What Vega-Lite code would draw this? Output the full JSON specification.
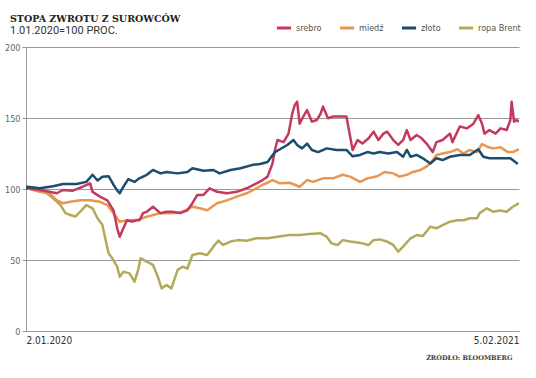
{
  "$schema": "https://vega.github.io/schema/vega-lite/v6.json",
  "width": 493,
  "height": 284,
  "autosize": {"type": "none"},
  "padding": {"left": 26, "top": 47, "right": 17, "bottom": 47},
  "background": "#ffffff",
  "title": {
    "text": "STOPA ZWROTU Z SUROWCÓW",
    "subtitle": "1.01.2020=100 PROC.",
    "anchor": "start",
    "frame": "group",
    "dx": -16,
    "offset": -17,
    "font": "DejaVu Serif",
    "fontSize": 9.5,
    "fontWeight": "bold",
    "color": "#222222",
    "subtitleFont": "Roboto",
    "subtitleFontSize": 11,
    "subtitleColor": "#333333",
    "subtitlePadding": 2
  },
  "data": {
    "values": [
      {"d": "2020-01-02", "s": "ropa Brent", "v": 100},
      {"d": "2020-01-03", "s": "ropa Brent", "v": 100.5},
      {"d": "2020-01-11", "s": "ropa Brent", "v": 99.3},
      {"d": "2020-01-19", "s": "ropa Brent", "v": 97},
      {"d": "2020-01-24", "s": "ropa Brent", "v": 93.4},
      {"d": "2020-01-30", "s": "ropa Brent", "v": 88.7},
      {"d": "2020-02-03", "s": "ropa Brent", "v": 83},
      {"d": "2020-02-07", "s": "ropa Brent", "v": 81.7},
      {"d": "2020-02-11", "s": "ropa Brent", "v": 80.5},
      {"d": "2020-02-15", "s": "ropa Brent", "v": 84},
      {"d": "2020-02-20", "s": "ropa Brent", "v": 88.7},
      {"d": "2020-02-25", "s": "ropa Brent", "v": 86.4},
      {"d": "2020-02-29", "s": "ropa Brent", "v": 79.4},
      {"d": "2020-03-04", "s": "ropa Brent", "v": 74.6},
      {"d": "2020-03-06", "s": "ropa Brent", "v": 66.4},
      {"d": "2020-03-09", "s": "ropa Brent", "v": 54.7},
      {"d": "2020-03-12", "s": "ropa Brent", "v": 51.2},
      {"d": "2020-03-16", "s": "ropa Brent", "v": 45.3},
      {"d": "2020-03-18", "s": "ropa Brent", "v": 38.2},
      {"d": "2020-03-21", "s": "ropa Brent", "v": 41.8},
      {"d": "2020-03-26", "s": "ropa Brent", "v": 40.6},
      {"d": "2020-03-30", "s": "ropa Brent", "v": 34.7},
      {"d": "2020-04-02", "s": "ropa Brent", "v": 43},
      {"d": "2020-04-04", "s": "ropa Brent", "v": 51.2},
      {"d": "2020-04-09", "s": "ropa Brent", "v": 48.8},
      {"d": "2020-04-14", "s": "ropa Brent", "v": 46.5},
      {"d": "2020-04-18", "s": "ropa Brent", "v": 38.2},
      {"d": "2020-04-21", "s": "ropa Brent", "v": 30},
      {"d": "2020-04-25", "s": "ropa Brent", "v": 32.4},
      {"d": "2020-04-29", "s": "ropa Brent", "v": 30},
      {"d": "2020-05-04", "s": "ropa Brent", "v": 43},
      {"d": "2020-05-08", "s": "ropa Brent", "v": 45.3},
      {"d": "2020-05-12", "s": "ropa Brent", "v": 44},
      {"d": "2020-05-16", "s": "ropa Brent", "v": 53.5},
      {"d": "2020-05-22", "s": "ropa Brent", "v": 54.7},
      {"d": "2020-05-28", "s": "ropa Brent", "v": 53.5},
      {"d": "2020-06-02", "s": "ropa Brent", "v": 59.4},
      {"d": "2020-06-06", "s": "ropa Brent", "v": 63.6},
      {"d": "2020-06-10", "s": "ropa Brent", "v": 60.6},
      {"d": "2020-06-16", "s": "ropa Brent", "v": 63},
      {"d": "2020-06-22", "s": "ropa Brent", "v": 64},
      {"d": "2020-06-29", "s": "ropa Brent", "v": 63.6},
      {"d": "2020-07-07", "s": "ropa Brent", "v": 65.3},
      {"d": "2020-07-16", "s": "ropa Brent", "v": 65.3},
      {"d": "2020-07-24", "s": "ropa Brent", "v": 66.4},
      {"d": "2020-08-03", "s": "ropa Brent", "v": 67.6},
      {"d": "2020-08-11", "s": "ropa Brent", "v": 67.6},
      {"d": "2020-08-19", "s": "ropa Brent", "v": 68.3},
      {"d": "2020-08-28", "s": "ropa Brent", "v": 68.8},
      {"d": "2020-09-02", "s": "ropa Brent", "v": 66.4},
      {"d": "2020-09-06", "s": "ropa Brent", "v": 61.7},
      {"d": "2020-09-11", "s": "ropa Brent", "v": 60.6},
      {"d": "2020-09-15", "s": "ropa Brent", "v": 64},
      {"d": "2020-09-21", "s": "ropa Brent", "v": 63},
      {"d": "2020-09-27", "s": "ropa Brent", "v": 62.3},
      {"d": "2020-10-01", "s": "ropa Brent", "v": 61.7},
      {"d": "2020-10-06", "s": "ropa Brent", "v": 60.6},
      {"d": "2020-10-10", "s": "ropa Brent", "v": 64},
      {"d": "2020-10-15", "s": "ropa Brent", "v": 64.5},
      {"d": "2020-10-21", "s": "ropa Brent", "v": 63},
      {"d": "2020-10-26", "s": "ropa Brent", "v": 60.6},
      {"d": "2020-10-30", "s": "ropa Brent", "v": 55.9},
      {"d": "2020-11-03", "s": "ropa Brent", "v": 59.4},
      {"d": "2020-11-09", "s": "ropa Brent", "v": 65.3},
      {"d": "2020-11-14", "s": "ropa Brent", "v": 67.6},
      {"d": "2020-11-19", "s": "ropa Brent", "v": 66.9},
      {"d": "2020-11-25", "s": "ropa Brent", "v": 73.4},
      {"d": "2020-11-30", "s": "ropa Brent", "v": 72.3},
      {"d": "2020-12-05", "s": "ropa Brent", "v": 74.6},
      {"d": "2020-12-11", "s": "ropa Brent", "v": 77},
      {"d": "2020-12-17", "s": "ropa Brent", "v": 78},
      {"d": "2020-12-22", "s": "ropa Brent", "v": 78},
      {"d": "2020-12-27", "s": "ropa Brent", "v": 79.4},
      {"d": "2021-01-02", "s": "ropa Brent", "v": 79.4},
      {"d": "2021-01-04", "s": "ropa Brent", "v": 83},
      {"d": "2021-01-10", "s": "ropa Brent", "v": 86.4},
      {"d": "2021-01-15", "s": "ropa Brent", "v": 84},
      {"d": "2021-01-21", "s": "ropa Brent", "v": 84.8},
      {"d": "2021-01-26", "s": "ropa Brent", "v": 84},
      {"d": "2021-01-31", "s": "ropa Brent", "v": 87.5},
      {"d": "2021-02-05", "s": "ropa Brent", "v": 90},

      {"d": "2020-01-02", "s": "miedź", "v": 100},
      {"d": "2020-01-03", "s": "miedź", "v": 100.5},
      {"d": "2020-01-13", "s": "miedź", "v": 98},
      {"d": "2020-01-21", "s": "miedź", "v": 97},
      {"d": "2020-01-27", "s": "miedź", "v": 92},
      {"d": "2020-02-01", "s": "miedź", "v": 90},
      {"d": "2020-02-07", "s": "miedź", "v": 91},
      {"d": "2020-02-15", "s": "miedź", "v": 92},
      {"d": "2020-02-23", "s": "miedź", "v": 92},
      {"d": "2020-03-02", "s": "miedź", "v": 91},
      {"d": "2020-03-08", "s": "miedź", "v": 88.7},
      {"d": "2020-03-13", "s": "miedź", "v": 83},
      {"d": "2020-03-18", "s": "miedź", "v": 77},
      {"d": "2020-03-24", "s": "miedź", "v": 78},
      {"d": "2020-03-29", "s": "miedź", "v": 78},
      {"d": "2020-04-03", "s": "miedź", "v": 78.5},
      {"d": "2020-04-09", "s": "miedź", "v": 80.5},
      {"d": "2020-04-20", "s": "miedź", "v": 83},
      {"d": "2020-04-30", "s": "miedź", "v": 83},
      {"d": "2020-05-08", "s": "miedź", "v": 84},
      {"d": "2020-05-16", "s": "miedź", "v": 87.5},
      {"d": "2020-05-22", "s": "miedź", "v": 86.4},
      {"d": "2020-05-28", "s": "miedź", "v": 85},
      {"d": "2020-06-05", "s": "miedź", "v": 90},
      {"d": "2020-06-13", "s": "miedź", "v": 92},
      {"d": "2020-06-21", "s": "miedź", "v": 94.6},
      {"d": "2020-06-29", "s": "miedź", "v": 97},
      {"d": "2020-07-07", "s": "miedź", "v": 100.5},
      {"d": "2020-07-12", "s": "miedź", "v": 103},
      {"d": "2020-07-16", "s": "miedź", "v": 104.4},
      {"d": "2020-07-20", "s": "miedź", "v": 106.3},
      {"d": "2020-07-26", "s": "miedź", "v": 104},
      {"d": "2020-08-03", "s": "miedź", "v": 104.4},
      {"d": "2020-08-11", "s": "miedź", "v": 101.6},
      {"d": "2020-08-17", "s": "miedź", "v": 106.3},
      {"d": "2020-08-22", "s": "miedź", "v": 105},
      {"d": "2020-08-30", "s": "miedź", "v": 107.5},
      {"d": "2020-09-07", "s": "miedź", "v": 107.5},
      {"d": "2020-09-15", "s": "miedź", "v": 110},
      {"d": "2020-09-21", "s": "miedź", "v": 108.7},
      {"d": "2020-09-29", "s": "miedź", "v": 105},
      {"d": "2020-10-05", "s": "miedź", "v": 107.5},
      {"d": "2020-10-13", "s": "miedź", "v": 109},
      {"d": "2020-10-19", "s": "miedź", "v": 112},
      {"d": "2020-10-26", "s": "miedź", "v": 111},
      {"d": "2020-10-31", "s": "miedź", "v": 108.7},
      {"d": "2020-11-06", "s": "miedź", "v": 110},
      {"d": "2020-11-11", "s": "miedź", "v": 112},
      {"d": "2020-11-17", "s": "miedź", "v": 113.4},
      {"d": "2020-11-22", "s": "miedź", "v": 115.7},
      {"d": "2020-11-26", "s": "miedź", "v": 119},
      {"d": "2020-11-30", "s": "miedź", "v": 124},
      {"d": "2020-12-05", "s": "miedź", "v": 125},
      {"d": "2020-12-11", "s": "miedź", "v": 126},
      {"d": "2020-12-17", "s": "miedź", "v": 128},
      {"d": "2020-12-22", "s": "miedź", "v": 125},
      {"d": "2020-12-27", "s": "miedź", "v": 127.5},
      {"d": "2021-01-02", "s": "miedź", "v": 126},
      {"d": "2021-01-06", "s": "miedź", "v": 131.7},
      {"d": "2021-01-10", "s": "miedź", "v": 129.8},
      {"d": "2021-01-15", "s": "miedź", "v": 128.6},
      {"d": "2021-01-21", "s": "miedź", "v": 129.4},
      {"d": "2021-01-27", "s": "miedź", "v": 126},
      {"d": "2021-01-31", "s": "miedź", "v": 126},
      {"d": "2021-02-05", "s": "miedź", "v": 128},

      {"d": "2020-01-02", "s": "srebro", "v": 100},
      {"d": "2020-01-03", "s": "srebro", "v": 100.5},
      {"d": "2020-01-13", "s": "srebro", "v": 99.3},
      {"d": "2020-01-21", "s": "srebro", "v": 98},
      {"d": "2020-01-27", "s": "srebro", "v": 97},
      {"d": "2020-02-01", "s": "srebro", "v": 99.3},
      {"d": "2020-02-09", "s": "srebro", "v": 98.8},
      {"d": "2020-02-17", "s": "srebro", "v": 101.6},
      {"d": "2020-02-23", "s": "srebro", "v": 104},
      {"d": "2020-02-25", "s": "srebro", "v": 98},
      {"d": "2020-03-02", "s": "srebro", "v": 94.6},
      {"d": "2020-03-08", "s": "srebro", "v": 92},
      {"d": "2020-03-13", "s": "srebro", "v": 85},
      {"d": "2020-03-16", "s": "srebro", "v": 72.3},
      {"d": "2020-03-18", "s": "srebro", "v": 66.4},
      {"d": "2020-03-21", "s": "srebro", "v": 72.3},
      {"d": "2020-03-24", "s": "srebro", "v": 78},
      {"d": "2020-03-28", "s": "srebro", "v": 77},
      {"d": "2020-04-01", "s": "srebro", "v": 78},
      {"d": "2020-04-03", "s": "srebro", "v": 78},
      {"d": "2020-04-06", "s": "srebro", "v": 83},
      {"d": "2020-04-09", "s": "srebro", "v": 84},
      {"d": "2020-04-14", "s": "srebro", "v": 87.5},
      {"d": "2020-04-20", "s": "srebro", "v": 83},
      {"d": "2020-04-25", "s": "srebro", "v": 84},
      {"d": "2020-04-30", "s": "srebro", "v": 84},
      {"d": "2020-05-06", "s": "srebro", "v": 83},
      {"d": "2020-05-12", "s": "srebro", "v": 85},
      {"d": "2020-05-16", "s": "srebro", "v": 90},
      {"d": "2020-05-20", "s": "srebro", "v": 95.8},
      {"d": "2020-05-25", "s": "srebro", "v": 95.8},
      {"d": "2020-05-30", "s": "srebro", "v": 100.5},
      {"d": "2020-06-05", "s": "srebro", "v": 98},
      {"d": "2020-06-13", "s": "srebro", "v": 97},
      {"d": "2020-06-21", "s": "srebro", "v": 98},
      {"d": "2020-06-29", "s": "srebro", "v": 100.5},
      {"d": "2020-07-07", "s": "srebro", "v": 104},
      {"d": "2020-07-12", "s": "srebro", "v": 106.3},
      {"d": "2020-07-16", "s": "srebro", "v": 108.7},
      {"d": "2020-07-20", "s": "srebro", "v": 118},
      {"d": "2020-07-22", "s": "srebro", "v": 127.5},
      {"d": "2020-07-24", "s": "srebro", "v": 134.5},
      {"d": "2020-07-29", "s": "srebro", "v": 133},
      {"d": "2020-08-02", "s": "srebro", "v": 139},
      {"d": "2020-08-05", "s": "srebro", "v": 153},
      {"d": "2020-08-07", "s": "srebro", "v": 159},
      {"d": "2020-08-09", "s": "srebro", "v": 161.5},
      {"d": "2020-08-11", "s": "srebro", "v": 146},
      {"d": "2020-08-14", "s": "srebro", "v": 151},
      {"d": "2020-08-17", "s": "srebro", "v": 155.6},
      {"d": "2020-08-21", "s": "srebro", "v": 147.4},
      {"d": "2020-08-25", "s": "srebro", "v": 148.6},
      {"d": "2020-08-28", "s": "srebro", "v": 153},
      {"d": "2020-08-30", "s": "srebro", "v": 158},
      {"d": "2020-09-03", "s": "srebro", "v": 149.8},
      {"d": "2020-09-07", "s": "srebro", "v": 151},
      {"d": "2020-09-13", "s": "srebro", "v": 151},
      {"d": "2020-09-18", "s": "srebro", "v": 151},
      {"d": "2020-09-21", "s": "srebro", "v": 137},
      {"d": "2020-09-23", "s": "srebro", "v": 127.5},
      {"d": "2020-09-27", "s": "srebro", "v": 134.5},
      {"d": "2020-10-01", "s": "srebro", "v": 132},
      {"d": "2020-10-06", "s": "srebro", "v": 135.7},
      {"d": "2020-10-10", "s": "srebro", "v": 140.4},
      {"d": "2020-10-14", "s": "srebro", "v": 134.5},
      {"d": "2020-10-18", "s": "srebro", "v": 139},
      {"d": "2020-10-21", "s": "srebro", "v": 140.4},
      {"d": "2020-10-26", "s": "srebro", "v": 134.5},
      {"d": "2020-10-30", "s": "srebro", "v": 131},
      {"d": "2020-11-03", "s": "srebro", "v": 134.5},
      {"d": "2020-11-06", "s": "srebro", "v": 141.5},
      {"d": "2020-11-09", "s": "srebro", "v": 134.5},
      {"d": "2020-11-14", "s": "srebro", "v": 138},
      {"d": "2020-11-18", "s": "srebro", "v": 135.7},
      {"d": "2020-11-22", "s": "srebro", "v": 132},
      {"d": "2020-11-27", "s": "srebro", "v": 126},
      {"d": "2020-11-30", "s": "srebro", "v": 133},
      {"d": "2020-12-05", "s": "srebro", "v": 134.5},
      {"d": "2020-12-11", "s": "srebro", "v": 139},
      {"d": "2020-12-13", "s": "srebro", "v": 133},
      {"d": "2020-12-19", "s": "srebro", "v": 144},
      {"d": "2020-12-25", "s": "srebro", "v": 142.7},
      {"d": "2020-12-30", "s": "srebro", "v": 146},
      {"d": "2021-01-03", "s": "srebro", "v": 152},
      {"d": "2021-01-06", "s": "srebro", "v": 146},
      {"d": "2021-01-08", "s": "srebro", "v": 139},
      {"d": "2021-01-12", "s": "srebro", "v": 141.5},
      {"d": "2021-01-17", "s": "srebro", "v": 139},
      {"d": "2021-01-21", "s": "srebro", "v": 142.7},
      {"d": "2021-01-26", "s": "srebro", "v": 141.5},
      {"d": "2021-01-29", "s": "srebro", "v": 148.6},
      {"d": "2021-01-30", "s": "srebro", "v": 161.5},
      {"d": "2021-02-01", "s": "srebro", "v": 147.4},
      {"d": "2021-02-03", "s": "srebro", "v": 148.6},
      {"d": "2021-02-05", "s": "srebro", "v": 147.4},

      {"d": "2020-01-02", "s": "złoto", "v": 100},
      {"d": "2020-01-03", "s": "złoto", "v": 101.6},
      {"d": "2020-01-13", "s": "złoto", "v": 100.5},
      {"d": "2020-01-24", "s": "złoto", "v": 102},
      {"d": "2020-02-01", "s": "złoto", "v": 103.5},
      {"d": "2020-02-12", "s": "złoto", "v": 103.5},
      {"d": "2020-02-20", "s": "złoto", "v": 105},
      {"d": "2020-02-25", "s": "złoto", "v": 110},
      {"d": "2020-02-29", "s": "złoto", "v": 106},
      {"d": "2020-03-04", "s": "złoto", "v": 108.7},
      {"d": "2020-03-09", "s": "złoto", "v": 109},
      {"d": "2020-03-13", "s": "złoto", "v": 103},
      {"d": "2020-03-16", "s": "złoto", "v": 99},
      {"d": "2020-03-18", "s": "złoto", "v": 97},
      {"d": "2020-03-21", "s": "złoto", "v": 101.6},
      {"d": "2020-03-25", "s": "złoto", "v": 107},
      {"d": "2020-03-30", "s": "złoto", "v": 105},
      {"d": "2020-04-03", "s": "złoto", "v": 107.5},
      {"d": "2020-04-09", "s": "złoto", "v": 110},
      {"d": "2020-04-14", "s": "złoto", "v": 113.4},
      {"d": "2020-04-20", "s": "złoto", "v": 111},
      {"d": "2020-04-25", "s": "złoto", "v": 112},
      {"d": "2020-05-04", "s": "złoto", "v": 111},
      {"d": "2020-05-12", "s": "złoto", "v": 112},
      {"d": "2020-05-16", "s": "złoto", "v": 114.6},
      {"d": "2020-05-25", "s": "złoto", "v": 112.9},
      {"d": "2020-06-02", "s": "złoto", "v": 113.4},
      {"d": "2020-06-07", "s": "złoto", "v": 111},
      {"d": "2020-06-16", "s": "złoto", "v": 113.4},
      {"d": "2020-06-24", "s": "złoto", "v": 114.6},
      {"d": "2020-07-04", "s": "złoto", "v": 117},
      {"d": "2020-07-10", "s": "złoto", "v": 117.6},
      {"d": "2020-07-16", "s": "złoto", "v": 119},
      {"d": "2020-07-22", "s": "złoto", "v": 126},
      {"d": "2020-07-26", "s": "złoto", "v": 128},
      {"d": "2020-08-01", "s": "złoto", "v": 131},
      {"d": "2020-08-06", "s": "złoto", "v": 134.5},
      {"d": "2020-08-09", "s": "złoto", "v": 131},
      {"d": "2020-08-13", "s": "złoto", "v": 128.6},
      {"d": "2020-08-17", "s": "złoto", "v": 132},
      {"d": "2020-08-21", "s": "złoto", "v": 127.5},
      {"d": "2020-08-26", "s": "złoto", "v": 126},
      {"d": "2020-09-02", "s": "złoto", "v": 128.6},
      {"d": "2020-09-10", "s": "złoto", "v": 127.5},
      {"d": "2020-09-18", "s": "złoto", "v": 127.5},
      {"d": "2020-09-23", "s": "złoto", "v": 123},
      {"d": "2020-09-29", "s": "złoto", "v": 124},
      {"d": "2020-10-05", "s": "złoto", "v": 126},
      {"d": "2020-10-10", "s": "złoto", "v": 125},
      {"d": "2020-10-15", "s": "złoto", "v": 126},
      {"d": "2020-10-22", "s": "złoto", "v": 125},
      {"d": "2020-10-29", "s": "złoto", "v": 126},
      {"d": "2020-11-03", "s": "złoto", "v": 122.7},
      {"d": "2020-11-06", "s": "złoto", "v": 127.5},
      {"d": "2020-11-09", "s": "złoto", "v": 122.7},
      {"d": "2020-11-14", "s": "złoto", "v": 124},
      {"d": "2020-11-19", "s": "złoto", "v": 121.6},
      {"d": "2020-11-25", "s": "złoto", "v": 118},
      {"d": "2020-11-30", "s": "złoto", "v": 121.6},
      {"d": "2020-12-05", "s": "złoto", "v": 120.4},
      {"d": "2020-12-11", "s": "złoto", "v": 122.7},
      {"d": "2020-12-19", "s": "złoto", "v": 124},
      {"d": "2020-12-27", "s": "złoto", "v": 124},
      {"d": "2021-01-03", "s": "złoto", "v": 128},
      {"d": "2021-01-07", "s": "złoto", "v": 122.7},
      {"d": "2021-01-12", "s": "złoto", "v": 121.6},
      {"d": "2021-01-21", "s": "złoto", "v": 121.6},
      {"d": "2021-01-29", "s": "złoto", "v": 121.6},
      {"d": "2021-02-02", "s": "złoto", "v": 119},
      {"d": "2021-02-04", "s": "złoto", "v": 117.6}
    ]
  },
  "mark": {"type": "line", "strokeWidth": 2.5, "strokeJoin": "round", "clip": true},
  "encoding": {
    "x": {
      "field": "d",
      "type": "temporal",
      "scale": {"domain": [{"year": 2020, "month": 1, "date": 2}, {"year": 2021, "month": 2, "date": 5}]},
      "axis": {
        "values": [{"year": 2020, "month": 1, "date": 2}, {"year": 2021, "month": 2, "date": 5}],
        "format": "%-d.%m.%Y",
        "labelFlush": true,
        "grid": false,
        "ticks": false,
        "domainColor": "#999999",
        "labelFont": "DejaVu Sans Condensed, Liberation Sans Narrow, sans-serif",
        "labelFontSize": 10,
        "labelColor": "#333333",
        "labelPadding": 4,
        "title": "ŹRÓDŁO: BLOOMBERG",
        "titleFont": "DejaVu Serif",
        "titleFontSize": 6.5,
        "titleFontWeight": "bold",
        "titleColor": "#444444",
        "titleAlign": "right",
        "titleX": 486,
        "titleY": 23
      }
    },
    "y": {
      "field": "v",
      "type": "quantitative",
      "scale": {"domain": [0, 200], "nice": false},
      "axis": {
        "values": [0, 50, 100, 150, 200],
        "grid": true,
        "gridColor": "#999999",
        "gridWidth": 1,
        "domainColor": "#999999",
        "tickColor": "#999999",
        "tickSize": 4,
        "labelFont": "DejaVu Sans Condensed, Liberation Sans Narrow, sans-serif",
        "labelFontSize": 9,
        "labelColor": "#666666",
        "labelPadding": 2,
        "title": null
      }
    },
    "color": {
      "field": "s",
      "type": "nominal",
      "scale": {
        "domain": ["srebro", "miedź", "złoto", "ropa Brent"],
        "range": ["#c4395c", "#ea9550", "#1c4c6e", "#b3aa59"]
      },
      "legend": {
        "title": null,
        "orient": "none",
        "direction": "horizontal",
        "legendX": 249,
        "legendY": -28,
        "symbolType": "stroke",
        "symbolStrokeWidth": 3,
        "symbolSize": 200,
        "labelFont": "DejaVu Sans Condensed, Liberation Sans Narrow, sans-serif",
        "labelFontSize": 9,
        "labelColor": "#555555",
        "columnPadding": 11,
        "labelOffset": 3
      }
    },
    "order": {"field": "s"}
  },
  "config": {"view": {"stroke": null}}
}
